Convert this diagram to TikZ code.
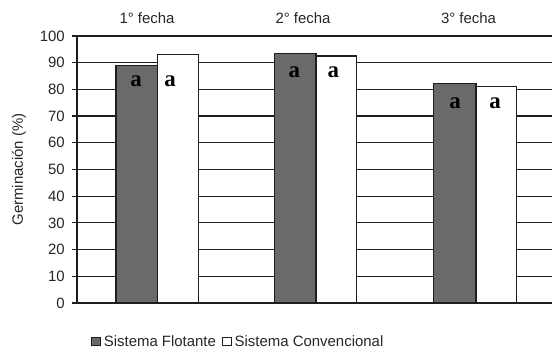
\documentclass[tikz,border=0pt]{standalone}
\usepackage{fontspec}
\setmainfont{Liberation Sans}
\newfontfamily\barfont{Liberation Serif}
\usetikzlibrary{positioning}
\definecolor{flotante}{RGB}{106,106,106}
\definecolor{ejes}{RGB}{30,30,30}

\begin{document}
\begin{tikzpicture}
[ x=1bp, y=2.67bp,
grid/.style={draw=ejes, line width=1.2bp},
flot/.style={draw=ejes, line width=1.2bp, fill=flotante},
conv/.style={draw=ejes, line width=1.2bp, fill=white},
txt/.style={font=\fontsize{15}{18}\selectfont, text=black!85, inner sep=0pt},
letra/.style={font=\barfont\bfseries\fontsize{23}{25}\selectfont, inner sep=0pt},
legbox/.style={draw=ejes, line width=0.8bp, minimum size=8.5bp, inner sep=0pt},
]
\useasboundingbox (-77,-18.73) rectangle (475,113.48);

% grid and y ticks
\foreach \v in {0,10,...,100}{
  \draw[grid] (-5.3,\v) -- (475,\v);
  \node (tick\v) [txt, anchor=east] at (-12,\v) {\v};
}
\draw[grid] (0,0) -- (0,100);

% bars
\draw[flot] (39,0) rectangle (80.3,89);
\draw[conv] (80.3,0) rectangle (121.3,93);
\draw[flot] (197.8,0) rectangle (239,93.5);
\draw[conv] (239,0) rectangle (279.5,92.5);
\draw[flot] (356.6,0) rectangle (399,82.3);
\draw[conv] (399,0) rectangle (439.3,81.1);

% letters
\node (a1f) [letra] at (59,83.2) {a};
\node (a1c) [letra] at (93,83.2) {a};
\node (a2f) [letra] at (217.3,86.3) {a};
\node (a2c) [letra] at (256.3,86.3) {a};
\node (a3f) [letra] at (378,74.8) {a};
\node (a3c) [letra] at (418,74.8) {a};

% titles
\node (fecha1) [txt] at (70,106.6) {1° fecha};
\node (fecha2) [txt] at (226,106.6) {2° fecha};
\node (fecha3) [txt] at (391.5,106.6) {3° fecha};

\node (ylab) [txt, rotate=90] at (-58,50) {Germinación (\%)};

% legend
\node (legflot) [legbox, fill=flotante] at (19,-14.4) {};
\node (txtflot) [txt, right=3bp of legflot] {Sistema Flotante};
\node (legconv) [legbox, fill=white, right=6bp of txtflot] {};
\node (txtconv) [txt, right=3bp of legconv] {Sistema Convencional};
\end{tikzpicture}
\end{document}
